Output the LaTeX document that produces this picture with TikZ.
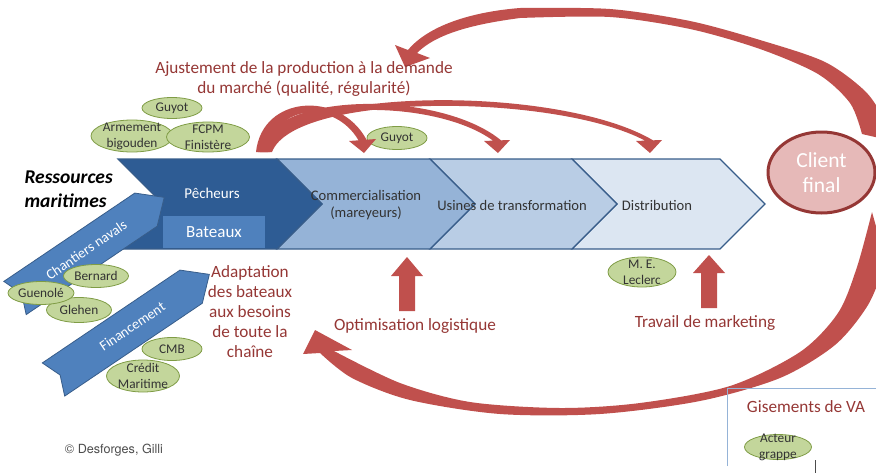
\documentclass[tikz,border=0pt]{standalone}
\usepackage{fontspec}
\setmainfont{Carlito}
\newfontfamily\heros{TeX Gyre Heros}
\usetikzlibrary{shapes.geometric, calc}
\definecolor{deepblue}{HTML}{2E5C94}
\definecolor{midblue}{HTML}{4F81BD}
\definecolor{edgeblue}{HTML}{385D8A}
\definecolor{chevA}{HTML}{95B3D7}
\definecolor{chevB}{HTML}{B9CDE5}
\definecolor{chevC}{HTML}{DCE6F2}
\definecolor{leaf}{HTML}{C3D69B}
\definecolor{leafedge}{HTML}{7F9C45}
\definecolor{brick}{HTML}{C0504D}
\definecolor{wine}{HTML}{953735}
\definecolor{blush}{HTML}{E6B9B8}

\begin{document}
\begin{tikzpicture}[x=1pt, y=-1pt,
    actor/.style={ellipse, draw=leafedge, fill=leaf, line width=0.8pt, inner sep=-6pt,
        align=center, text=black!80, font=\fontsize{13.3}{16}\selectfont},
    stage/.style={draw=edgeblue, line width=1.2pt},
    stagelabel/.style={align=center, text=black!80, font=\fontsize{14.6}{17}\selectfont},
    redlabel/.style={align=center, text=wine, font=\fontsize{17.2}{20}\selectfont},
    redshape/.style={fill=brick},
    slant/.style={fill=midblue, draw=edgeblue, line width=0.8pt}]
    \useasboundingbox (0,0) rectangle (876,472);
    \clip (0,0) rectangle (876,472);

    \foreach \a/\b/\c in {572/720/chevC, 430/572/chevB, 277/430/chevA, 118/277/deepblue}
        \filldraw[stage, fill=\c] (\a,159) -- (\b,159) -- (\b+45,204) -- (\b,249) -- (\a,249) -- (\a+45,204) -- cycle;

    \begin{scope}[shift={(15,298)}, rotate=34]
        \filldraw[slant] (0,-20) -- (158,-20) -- (180,0) -- (158,20) -- (0,20) -- (8,0) -- cycle;
        \node[transform shape, text=white, font=\fontsize{14.3}{15}\selectfont] (chantiers) at (86,0) {Chantiers navals};
    \end{scope}
    \node[fill=midblue, minimum width=102, minimum height=32, inner sep=0, text=white,
        font=\fontsize{17}{18}\selectfont] (bateaux) at (214,232) {Bateaux};
    \node[text=white, font=\fontsize{15}{16}\selectfont] (pecheurs) at (212,193) {Pêcheurs};
    \begin{scope}[shift={(53.5,379.5)}, rotate=34]
        \filldraw[slant] (0,-20) -- (166,-20) -- (188,0) -- (166,20) -- (0,20) -- (8,0) -- cycle;
        \node[transform shape, text=white, font=\fontsize{14.3}{15}\selectfont] (financement) at (95,0) {Financement};
    \end{scope}

    \node[stagelabel] (commerce) at (366,205.5) {Commercialisation\\(mareyeurs)};
    \node[stagelabel] (usines) at (512,205) {Usines de transformation};
    \node[stagelabel] (distrib) at (657,205) {Distribution};

    \node[actor, minimum width=60, minimum height=21] (guyotA) at (172,108) {Guyot};
    \node[actor, minimum width=82, minimum height=32] (armement) at (132,136) {Armement\\bigouden};
    \node[actor, minimum width=83, minimum height=30] (fcpm) at (208,137) {FCPM\\Finistère};
    \node[actor, minimum width=60, minimum height=23] (guyotB) at (397,138) {Guyot};
    \node[actor, minimum width=65, minimum height=23] (bernard) at (96,276) {Bernard};
    \node[actor, minimum width=65, minimum height=25] (glehen) at (79,310) {Glehen};
    \node[actor, minimum width=66, minimum height=23] (guenole) at (41,293) {Guenolé};
    \node[actor, minimum width=60, minimum height=23] (cmb) at (172,349) {CMB};
    \node[actor, minimum width=73, minimum height=32] (credit) at (143,376) {Crédit\\Maritime};
    \node[actor, minimum width=68, minimum height=30] (leclerc) at (642,272) {M. E.\\Leclerc};
    \node[actor, minimum width=67, minimum height=25] (acteur) at (778,447) {Acteur\\grappe};

    \fill[redshape] (256,152) .. controls (262,95) and (340,90) .. (366.5,139.7) -- (376,139) -- (364,153)
        -- (349,141) -- (358.5,140.3) .. controls (335,100) and (275,103) .. (268,152) -- cycle;
    \fill[redshape] (258,152) .. controls (270,90) and (440,90) .. (501,140.3) -- (510,140) -- (498,153)
        -- (484,141) -- (493,140.6) .. controls (435,98) and (280,98) .. (270,152) -- cycle;
    \fill[redshape] (260,152) .. controls (285,85) and (560,85) .. (653,140.3) -- (662,140) -- (650,153)
        -- (636,141) -- (645,140.6) .. controls (555,93) and (295,92) .. (272,152) -- cycle;

    \fill[redshape] (399,311) -- (399,276) -- (391,276) -- (407,257) -- (423,276) -- (415,276) -- (415,311) -- cycle;
    \fill[redshape] (701,308) -- (701,273) -- (693,273) -- (709,255) -- (725,273) -- (717,273) -- (717,308) -- cycle;

    \fill[redshape] plot[smooth] coordinates {(886,122) (866,92) (825,62) (760,40) (690,21) (610,9) (520,8)}
        .. controls (470,12) and (428,26) .. (408,50) -- (395,45) -- (405,67) -- (430,58) -- (417,53)
        .. controls (437,33) and (475,24) .. (520,18)
        -- plot[smooth] coordinates {(520,18) (610,17) (690,29) (760,49) (818,74) (850,103) (862,134)}
        -- (888,140) -- cycle;
    \fill[redshape] plot[smooth] coordinates {(872,212) (857,267) (838,313) (800,352) (730,386) (640,403)
            (560,408) (470,402) (400,383) (334,351)}
        -- (352,350) -- (315,330) -- (303,354) -- (320,353)
        -- plot[smooth] coordinates {(320,353) (352,378) (410,400) (500,414) (600,414) (700,401) (780,378)
            (835,345) (868,305) (886,262)} -- cycle;

    \node[ellipse, draw=wine, fill=blush, line width=3pt, minimum width=107, minimum height=81, inner sep=-8pt,
        align=center, text=white, font=\fontsize{21.5}{25}\selectfont] (client) at (821.5,172.5) {Client\\final};

    \node[anchor=west, align=left, font=\fontsize{19.5}{24}\selectfont\bfseries\itshape] (ressources) at (21,189) {Ressources\\maritimes};
    \node[redlabel] (ajustement) at (304,79) {Ajustement de la production à la demande\\du marché (qualité, régularité)};
    \node[redlabel] (adaptation) at (250,312) {Adaptation\\des bateaux\\aux besoins\\de toute la\\chaîne};
    \node[redlabel] (optim) at (415,326) {Optimisation logistique};
    \node[redlabel] (travail) at (705,323) {Travail de marketing};
    \node[redlabel] (gisements) at (806,407) {Gisements de VA};
    \draw[chevA, line width=1pt] (727,466) -- (727,388) -- (880,388);
    \draw[black!70, line width=0.8pt] (815,460) -- (815,474);
    \node[text=black!70, font=\heros\fontsize{12.6}{14}\selectfont] (credits) at (114,450) {© Desforges, Gilli};
\end{tikzpicture}
\end{document}
